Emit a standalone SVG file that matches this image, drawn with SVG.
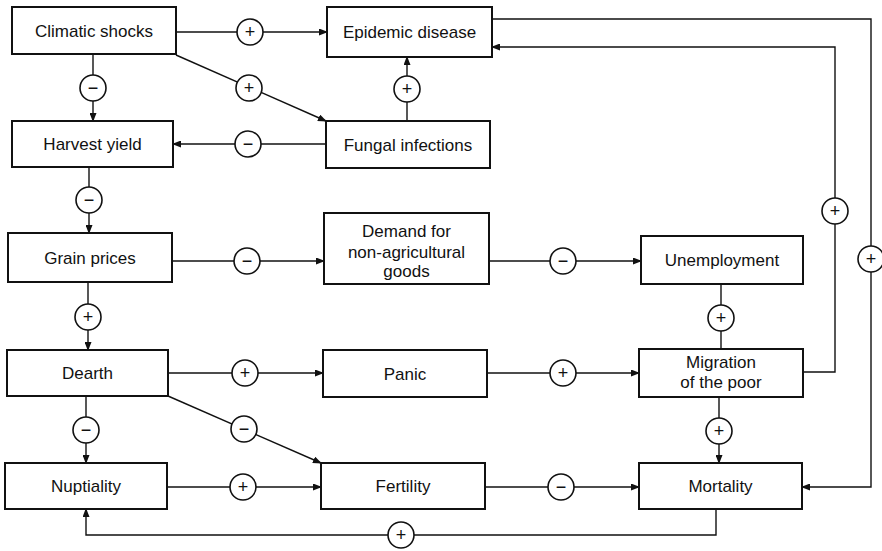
<svg xmlns="http://www.w3.org/2000/svg" width="882" height="551" viewBox="0 0 882 551">
<style>
.box{fill:#fff;stroke:#111;stroke-width:2}
.lbl{font-family:"Liberation Sans",Arial,sans-serif;font-size:17px;fill:#111;text-anchor:middle}
.ln{fill:none;stroke:#111;stroke-width:1.4}
.sg{fill:#fff;stroke:#111;stroke-width:1.6}
.st{font-family:"Liberation Sans",Arial,sans-serif;font-size:18px;fill:#111;text-anchor:middle}
</style>
<defs>
<marker id="ah" markerWidth="9" markerHeight="7" refX="8" refY="3.5" orient="auto" markerUnits="userSpaceOnUse">
<path d="M0,0 L9,3.5 L0,7 Z" fill="#111"/>
</marker>
</defs>
<rect width="882" height="551" fill="#fff"/>
<g id="connectors">
<line class="ln" x1="176" y1="32" x2="327" y2="32" marker-end="url(#ah)"/>
<line class="ln" x1="176" y1="55" x2="326" y2="121" marker-end="url(#ah)"/>
<line class="ln" x1="93" y1="54" x2="93" y2="121" marker-end="url(#ah)"/>
<line class="ln" x1="407" y1="121" x2="407" y2="57" marker-end="url(#ah)"/>
<line class="ln" x1="326" y1="144" x2="173" y2="144" marker-end="url(#ah)"/>
<line class="ln" x1="89" y1="167" x2="89" y2="233" marker-end="url(#ah)"/>
<line class="ln" x1="172" y1="261" x2="324" y2="261" marker-end="url(#ah)"/>
<line class="ln" x1="489" y1="261" x2="641" y2="261" marker-end="url(#ah)"/>
<line class="ln" x1="88" y1="282" x2="88" y2="350" marker-end="url(#ah)"/>
<line class="ln" x1="168" y1="373" x2="323" y2="373" marker-end="url(#ah)"/>
<line class="ln" x1="487" y1="373" x2="639" y2="373" marker-end="url(#ah)"/>
<line class="ln" x1="721" y1="284" x2="721" y2="349"/>
<polyline class="ln" points="803,372 835,372 835,47 492,47" marker-end="url(#ah)"/>
<polyline class="ln" points="492,19 871,19 871,487 802,487" marker-end="url(#ah)"/>
<line class="ln" x1="719" y1="397" x2="719" y2="463" marker-end="url(#ah)"/>
<line class="ln" x1="86" y1="396" x2="86" y2="463" marker-end="url(#ah)"/>
<line class="ln" x1="168" y1="396" x2="321" y2="463" marker-end="url(#ah)"/>
<line class="ln" x1="167" y1="487" x2="321" y2="487" marker-end="url(#ah)"/>
<line class="ln" x1="485" y1="487" x2="639" y2="487" marker-end="url(#ah)"/>
<polyline class="ln" points="716,509 716,535 86,535 86,509" marker-end="url(#ah)"/>
<circle class="sg" cx="250" cy="32" r="13"/><text class="st" x="250" y="38">+</text>
<circle class="sg" cx="249" cy="88" r="13"/><text class="st" x="249" y="94">+</text>
<circle class="sg" cx="93" cy="88" r="13"/><text class="st" x="93" y="94">−</text>
<circle class="sg" cx="407" cy="89" r="13"/><text class="st" x="407" y="95">+</text>
<circle class="sg" cx="248" cy="144" r="13"/><text class="st" x="248" y="150">−</text>
<circle class="sg" cx="89" cy="200" r="13"/><text class="st" x="89" y="206">−</text>
<circle class="sg" cx="247" cy="261" r="13"/><text class="st" x="247" y="267">−</text>
<circle class="sg" cx="563" cy="261" r="13"/><text class="st" x="563" y="267">−</text>
<circle class="sg" cx="88" cy="317" r="13"/><text class="st" x="88" y="323">+</text>
<circle class="sg" cx="245" cy="373" r="13"/><text class="st" x="245" y="379">+</text>
<circle class="sg" cx="563" cy="373" r="13"/><text class="st" x="563" y="379">+</text>
<circle class="sg" cx="721" cy="318" r="13"/><text class="st" x="721" y="324">+</text>
<circle class="sg" cx="835" cy="211" r="13"/><text class="st" x="835" y="217">+</text>
<circle class="sg" cx="871" cy="259" r="13"/><text class="st" x="871" y="265">+</text>
<circle class="sg" cx="719" cy="431" r="13"/><text class="st" x="719" y="437">+</text>
<circle class="sg" cx="86" cy="430" r="13"/><text class="st" x="86" y="436">−</text>
<circle class="sg" cx="244" cy="429" r="13"/><text class="st" x="244" y="435">−</text>
<circle class="sg" cx="243" cy="487" r="13"/><text class="st" x="243" y="493">+</text>
<circle class="sg" cx="561" cy="487" r="13"/><text class="st" x="561" y="493">−</text>
<circle class="sg" cx="401" cy="535" r="13"/><text class="st" x="401" y="541">+</text>
</g>
<g id="climatic"><rect class="box" x="12" y="7" width="164" height="47"/><text class="lbl" x="94" y="37">Climatic shocks</text></g>
<g id="epidemic"><rect class="box" x="327" y="7" width="165" height="50"/><text class="lbl" x="409.5" y="38">Epidemic disease</text></g>
<g id="harvest"><rect class="box" x="12" y="121" width="161" height="46"/><text class="lbl" x="92.5" y="150">Harvest yield</text></g>
<g id="fungal"><rect class="box" x="326" y="121" width="164" height="47"/><text class="lbl" x="408" y="150.5">Fungal infections</text></g>
<g id="grain"><rect class="box" x="8" y="233" width="164" height="49"/><text class="lbl" x="90" y="263.5">Grain prices</text></g>
<g id="demand"><rect class="box" x="324" y="213" width="165" height="71"/><text class="lbl" x="406.5" y="237">Demand for</text><text class="lbl" x="406.5" y="258">non-agricultural</text><text class="lbl" x="406.5" y="277">goods</text></g>
<g id="unemployment"><rect class="box" x="641" y="236" width="162" height="48"/><text class="lbl" x="722" y="266">Unemployment</text></g>
<g id="dearth"><rect class="box" x="7" y="350" width="161" height="46"/><text class="lbl" x="87.5" y="379">Dearth</text></g>
<g id="panic"><rect class="box" x="323" y="350" width="164" height="47"/><text class="lbl" x="405" y="379.5">Panic</text></g>
<g id="migration"><rect class="box" x="639" y="349" width="164" height="48"/><text class="lbl" x="721" y="368">Migration</text><text class="lbl" x="721" y="388">of the poor</text></g>
<g id="nuptiality"><rect class="box" x="5" y="463" width="162" height="46"/><text class="lbl" x="86" y="492">Nuptiality</text></g>
<g id="fertility"><rect class="box" x="321" y="463" width="164" height="46"/><text class="lbl" x="403" y="492">Fertility</text></g>
<g id="mortality"><rect class="box" x="639" y="463" width="163" height="46"/><text class="lbl" x="720.5" y="492">Mortality</text></g>
</svg>
